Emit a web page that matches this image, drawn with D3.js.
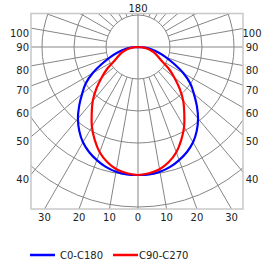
<!DOCTYPE html>
<html><head><meta charset="utf-8">
<script src="https://cdn.jsdelivr.net/npm/d3@7"></script>
<style>body{margin:0;background:#fff}svg{display:block}text{font-family:"DejaVu Sans",Verdana,sans-serif;fill:#222}</style>
</head><body><div id="c"></div>
<script>
// Gamma angles (deg, 0 = straight down)
const angles = [0,5,10,15,20,25,30,35,40,45,50,55,60,65,70,75,80,85,90];
// Relative luminous intensity (% of maximum)
const c0c180 = [100,100,99,97,94,90.5,86,80,73,65,57,50,41,31,23,16.5,11,5.5,0];
const c90c270 = [100,99,97,93,87.5,80,72,63,55,46,37,29,21,17,14,10.5,7,3.5,0];
const seriesNames = ["C0-C180","C90-C270"];
const seriesColors = ["#0000ff","#ff0000"];
const ringValues = [25,50,75,100,125];
const sideTicks = [100,90,80,70,60,50,40];
const bottomTicks = [30,20,10,0];

const W=275,H=266;
const box={x0:31,y0:13.5,x1:243,y1:209};
const cx=138, cy=47;
const r = d3.scaleLinear().domain([0,100]).range([0,128]);

const svg=d3.select("#c").append("svg").attr("width",W).attr("height",H);
svg.append("clipPath").attr("id","clip").append("rect")
  .attr("x",box.x0).attr("y",box.y0).attr("width",box.x1-box.x0).attr("height",box.y1-box.y0);
const g=svg.append("g").attr("clip-path","url(#clip)");
const gridColor="#858585";

g.selectAll("circle.ring").data(ringValues).join("circle")
  .attr("cx",cx).attr("cy",cy).attr("r",d=>r(d))
  .attr("fill","none").attr("stroke",gridColor).attr("stroke-width",1);

function pt(gamma,rad,s){const a=gamma*Math.PI/180;return [cx+s*rad*Math.sin(a), cy+rad*Math.cos(a)];}
const radials=[];
for(let a=10;a<180;a+=10){ if(a!==90){radials.push([a,-1]);radials.push([a,1]);} }
const far=400;
g.selectAll("line.rad").data(radials).join("line")
  .attr("x1",d=>pt(d[0],r(25),d[1])[0]).attr("y1",d=>pt(d[0],r(25),d[1])[1])
  .attr("x2",d=>pt(d[0],far,d[1])[0]).attr("y2",d=>pt(d[0],far,d[1])[1])
  .attr("stroke",gridColor).attr("stroke-width",1);
g.append("line").attr("x1",cx).attr("x2",cx).attr("y1",box.y0).attr("y2",box.y1).attr("stroke",gridColor);
g.append("line").attr("x1",box.x0).attr("x2",box.x1).attr("y1",cy).attr("y2",cy).attr("stroke",gridColor);

svg.append("rect").attr("x",box.x0).attr("y",box.y0).attr("width",box.x1-box.x0).attr("height",box.y1-box.y0)
  .attr("fill","none").attr("stroke","#c8c8c8").attr("stroke-width",1.5);

function curvePts(vals){
  const left=angles.map((a,i)=>pt(a,r(vals[i]),-1)).reverse(); // 90 -> 0
  const right=angles.map((a,i)=>pt(a,r(vals[i]),1));           // 0 -> 90
  return left.concat(right.slice(1));
}
const line=d3.line().curve(d3.curveCatmullRom.alpha(0.5));
[c0c180,c90c270].forEach((vals,i)=>{
  svg.append("path").attr("d",line(curvePts(vals))).attr("fill","none")
    .attr("stroke",seriesColors[i]).attr("stroke-width",2.2);
});

const fs=10;
sideTicks.forEach(t=>{
  const alpha=(90-t)*Math.PI/180;
  const y=cy+(cx-box.x0)*Math.tan(alpha);
  const yy = t===90? y : y+5;
  svg.append("text").attr("x",29).attr("y",yy).attr("text-anchor","end").attr("dominant-baseline","central").attr("font-size",fs).text(t);
  svg.append("text").attr("x",252).attr("y",yy).attr("text-anchor","middle").attr("dominant-baseline","central").attr("font-size",fs).text(t);
});
bottomTicks.forEach(t=>{
  const dx=(box.y1-cy)*Math.tan(t*Math.PI/180);
  [-1,1].forEach(s=>{
    if(t===0 && s===1) return;
    svg.append("text").attr("x",cx+s*dx).attr("y",217).attr("text-anchor","middle").attr("dominant-baseline","central").attr("font-size",fs).text(t);
  });
});
svg.append("text").attr("x",cx).attr("y",8).attr("text-anchor","middle").attr("dominant-baseline","central").attr("font-size",fs).text("180");

const lg=[{x:30,tx:60},{x:113,tx:139}];
seriesNames.forEach((n,i)=>{
  svg.append("line").attr("x1",lg[i].x).attr("x2",lg[i].x+25).attr("y1",255).attr("y2",255).attr("stroke",seriesColors[i]).attr("stroke-width",2.5);
  svg.append("text").attr("x",lg[i].tx).attr("y",255.5).attr("dominant-baseline","central").attr("font-size",fs).text(n);
});
</script></body></html>
